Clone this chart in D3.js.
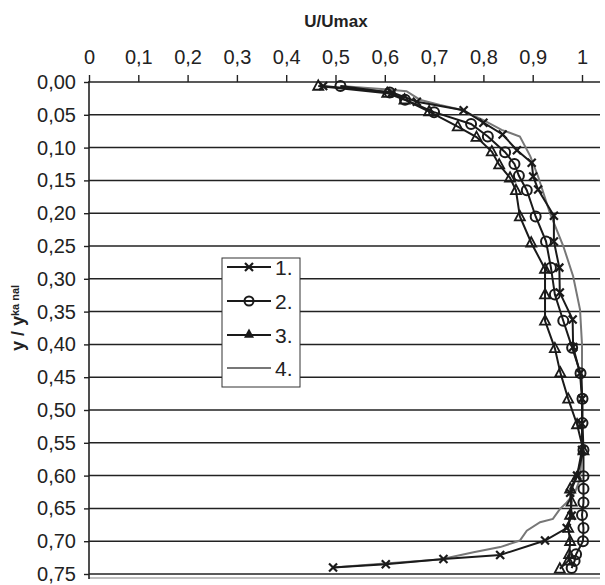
<!DOCTYPE html>
<html lang="en">
<head>
    <meta charset="utf-8">
    <title>U/Umax profile</title>
    <script src="https://d3js.org/d3.v7.min.js"></script>
    <style>
        body { margin: 0; padding: 0; overflow: hidden; background: #fff; }
        text { font-family: "Liberation Sans", Arial, sans-serif; fill: #222; }
    </style>
</head>
<body>
<svg id="chart"></svg>
<script>
    const width = 605, height = 585;

    const xTicks = [0, 0.1, 0.2, 0.3, 0.4, 0.5, 0.6, 0.7, 0.8, 0.9, 1];
    const yTicks = [0, 0.05, 0.1, 0.15, 0.2, 0.25, 0.3, 0.35, 0.4, 0.45, 0.5, 0.55, 0.6, 0.65, 0.7, 0.75];
    const seriesNames = ["1.", "2.", "3.", "4."];

    // [U/Umax, y/ykanal]
    const s1 = [[0.475, 0.006], [0.615, 0.016], [0.665, 0.03], [0.76, 0.043], [0.80, 0.062], [0.839, 0.080],
        [0.868, 0.104], [0.898, 0.123], [0.901, 0.144], [0.911, 0.164], [0.943, 0.204], [0.943, 0.243],
        [0.954, 0.283], [0.955, 0.321], [0.981, 0.362], [0.982, 0.404], [0.996, 0.444], [1.0, 0.483],
        [1.0, 0.521], [1.0, 0.561], [0.99, 0.60], [0.976, 0.626], [0.979, 0.661], [0.969, 0.68],
        [0.925, 0.699], [0.834, 0.721], [0.719, 0.727], [0.602, 0.735], [0.495, 0.74]];
    const s2 = [[0.51, 0.006], [0.61, 0.016], [0.641, 0.027], [0.70, 0.046], [0.775, 0.064], [0.809, 0.083],
        [0.844, 0.107], [0.863, 0.125], [0.872, 0.143], [0.888, 0.165], [0.906, 0.205], [0.927, 0.243],
        [0.937, 0.283], [0.945, 0.324], [0.962, 0.364], [0.980, 0.405], [0.997, 0.444], [1.001, 0.483],
        [1.001, 0.52], [1.003, 0.561], [1.003, 0.601], [1.003, 0.62], [1.003, 0.641], [1.0, 0.66],
        [1.003, 0.68], [1.002, 0.70], [0.988, 0.72], [0.985, 0.73], [0.979, 0.741]];
    const s3 = [[0.465, 0.006], [0.605, 0.017], [0.64, 0.027], [0.69, 0.045], [0.748, 0.068], [0.786, 0.084],
        [0.817, 0.106], [0.832, 0.126], [0.854, 0.146], [0.866, 0.165], [0.874, 0.205], [0.897, 0.245],
        [0.925, 0.285], [0.925, 0.324], [0.925, 0.364], [0.945, 0.406], [0.956, 0.443], [0.972, 0.483],
        [0.990, 0.522], [1.003, 0.562], [0.989, 0.603], [0.976, 0.62], [0.979, 0.64], [0.976, 0.66],
        [0.972, 0.68], [0.976, 0.70], [0.974, 0.72], [0.972, 0.73], [0.955, 0.742]];
    const s4 = [[0.51, 0.006], [0.60, 0.011], [0.644, 0.014], [0.671, 0.027], [0.712, 0.035], [0.752, 0.042],
        [0.80, 0.058], [0.837, 0.073], [0.874, 0.083], [0.895, 0.113], [0.911, 0.144], [0.935, 0.20],
        [0.962, 0.25], [0.982, 0.296], [0.996, 0.347], [1.0, 0.40], [1.0, 0.45], [1.0, 0.50], [1.0, 0.56],
        [0.996, 0.605], [0.986, 0.625], [0.969, 0.641], [0.955, 0.651], [0.941, 0.666], [0.915, 0.671],
        [0.888, 0.684], [0.874, 0.699], [0.834, 0.709], [0.78, 0.717], [0.712, 0.728], [0.60, 0.734],
        [0.495, 0.74]];

    const plotLeft = 89, plotRight = 600, plotTop = 82, plotBottom = 574;

    const x = d3.scaleLinear().domain([0, 1]).range([plotLeft, 582]);
    const y = d3.scaleLinear().domain([0, 0.75]).range([plotTop, plotBottom]);
    const fmtX = d => d === 0 || d === 1 ? String(d) : d3.format(".1f")(d).replace(".", ",");
    const fmtY = d => d3.format(".2f")(d).replace(".", ",");

    const svg = d3.select("#chart").attr("width", width).attr("height", height);

    // bottom grey border of plot area
    svg.append("line")
        .attr("x1", plotLeft).attr("x2", plotRight).attr("y1", plotBottom + 4).attr("y2", plotBottom + 4)
        .attr("stroke", "#aaa").attr("stroke-width", 1.5);

    // horizontal gridlines
    svg.append("g")
        .selectAll("line")
        .data(yTicks)
        .join("line")
        .attr("x1", plotLeft).attr("x2", plotRight)
        .attr("y1", d => y(d)).attr("y2", d => y(d))
        .attr("stroke", "#222").attr("stroke-width", 1.5);

    // top axis
    const xAxis = svg.append("g")
        .attr("transform", `translate(0,${plotTop})`)
        .call(d3.axisTop(x).tickValues(xTicks).tickFormat(fmtX).tickSize(7).tickSizeOuter(0).tickPadding(11));
    xAxis.select(".domain").remove();
    xAxis.selectAll(".tick line").attr("stroke", "#222").attr("stroke-width", 1.4);
    xAxis.selectAll("text").style("font-size", "20px").attr("fill", "#222");

    // left axis
    const yAxis = svg.append("g")
        .attr("transform", `translate(${plotLeft},0)`)
        .call(d3.axisLeft(y).tickValues(yTicks).tickFormat(fmtY).tickSize(5).tickSizeOuter(0).tickPadding(8));
    yAxis.select(".domain").remove();
    yAxis.selectAll(".tick line").attr("stroke", "#222").attr("stroke-width", 1.4);
    yAxis.selectAll("text").style("font-size", "20px").attr("fill", "#222");

    svg.append("line")
        .attr("x1", plotLeft).attr("x2", plotLeft).attr("y1", plotTop - 1).attr("y2", plotBottom + 5)
        .attr("stroke", "#222").attr("stroke-width", 1.6);

    // titles
    svg.append("text")
        .attr("x", 336).attr("y", 27)
        .attr("text-anchor", "middle")
        .style("font-size", "17px").style("font-weight", "bold")
        .text("U/Umax");

    const yTitle = svg.append("text")
        .attr("transform", "translate(24,318) rotate(-90)")
        .attr("text-anchor", "middle")
        .style("font-size", "18px").style("font-weight", "bold");
    yTitle.append("tspan").text("y / y");
    yTitle.append("tspan").attr("dy", -5).style("font-size", "11px").text("ka nal");

    // series
    const line = d3.line().x(d => x(d[0])).y(d => y(d[1]));
    const lineData = [
        { data: s4, color: "#777" },
        { data: s1, color: "#1a1a1a" },
        { data: s2, color: "#1a1a1a" },
        { data: s3, color: "#1a1a1a" }
    ];
    svg.append("g")
        .selectAll("path")
        .data(lineData)
        .join("path")
        .attr("d", d => line(d.data))
        .attr("fill", "none")
        .attr("stroke", d => d.color)
        .attr("stroke-width", 2);

    const crossPath = "M-4,-4L4,4M-4,4L4,-4";
    const triPath = "M0,-5.5L5,3.8L-5,3.8Z";

    svg.append("g")
        .selectAll("path")
        .data(s1)
        .join("path")
        .attr("transform", d => `translate(${x(d[0])},${y(d[1])})`)
        .attr("d", crossPath)
        .attr("stroke", "#1a1a1a").attr("stroke-width", 2.2).attr("fill", "none");

    svg.append("g")
        .selectAll("circle")
        .data(s2)
        .join("circle")
        .attr("cx", d => x(d[0])).attr("cy", d => y(d[1]))
        .attr("r", 5)
        .attr("stroke", "#1a1a1a").attr("stroke-width", 2).attr("fill", "none");

    svg.append("g")
        .selectAll("path")
        .data(s3)
        .join("path")
        .attr("transform", d => `translate(${x(d[0])},${y(d[1])})`)
        .attr("d", triPath)
        .attr("stroke", "#1a1a1a").attr("stroke-width", 1.8).attr("fill", "none");

    // legend
    const lg = svg.append("g");
    lg.append("rect")
        .attr("x", 222).attr("y", 258).attr("width", 78).attr("height", 129)
        .attr("fill", "#fff").attr("stroke", "#333").attr("stroke-width", 1);
    const rowY = [267, 301, 335, 368];
    const rowColor = ["#1a1a1a", "#1a1a1a", "#1a1a1a", "#777"];
    seriesNames.forEach((name, i) => {
        lg.append("line")
            .attr("x1", 227).attr("x2", 271).attr("y1", rowY[i]).attr("y2", rowY[i])
            .attr("stroke", rowColor[i]).attr("stroke-width", 2);
        lg.append("text")
            .attr("x", 275).attr("y", rowY[i] + 8)
            .style("font-size", "21px")
            .text(name);
    });
    lg.append("path").attr("transform", `translate(249,${rowY[0]})`).attr("d", crossPath)
        .attr("stroke", "#1a1a1a").attr("stroke-width", 2.2);
    lg.append("circle").attr("cx", 249).attr("cy", rowY[1]).attr("r", 4.5)
        .attr("stroke", "#1a1a1a").attr("stroke-width", 2).attr("fill", "none");
    lg.append("path").attr("transform", `translate(249,${rowY[2] - 1})`).attr("d", triPath)
        .attr("fill", "#1a1a1a");
</script>
</body>
</html>
